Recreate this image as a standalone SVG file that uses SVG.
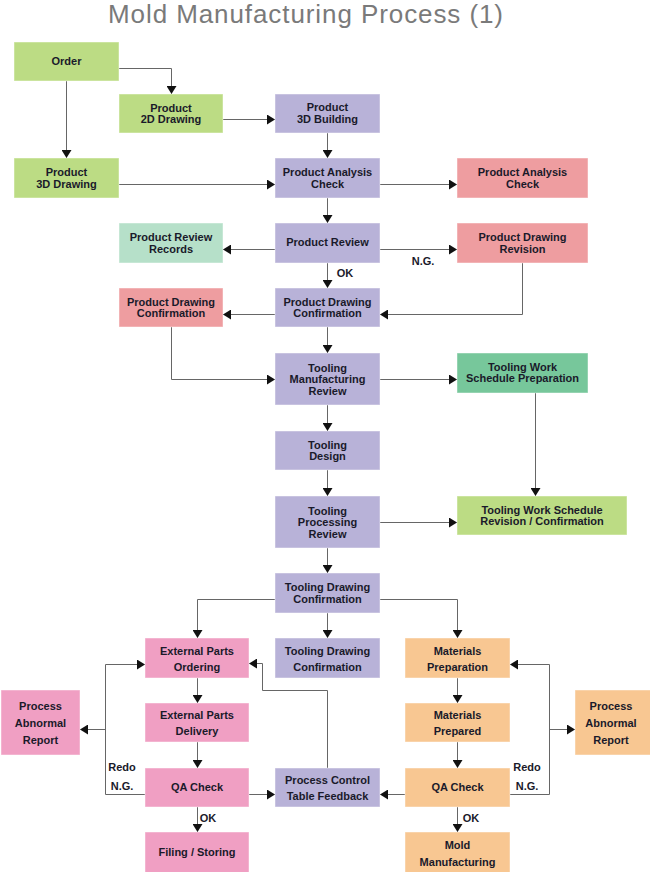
<svg xmlns="http://www.w3.org/2000/svg" width="650" height="872" viewBox="0 0 650 872">
<defs>
<marker id="ah" markerUnits="userSpaceOnUse" markerWidth="10" markerHeight="10" refX="8" refY="5" orient="auto">
<path d="M0,0 L8,5 L0,10 z" fill="#111"/>
</marker>
</defs>
<style>
.bx{stroke:#ffffff;stroke-opacity:0.45;stroke-width:1}
.g{fill:#bcdc84}.p{fill:#b8b2d8}.r{fill:#ee9da0}.m{fill:#b6e0c9}.t{fill:#77c79b}.k{fill:#f09fc3}.o{fill:#f8c792}
text{font-family:"Liberation Sans",Arial,sans-serif;font-size:11px;font-weight:bold;fill:#1a1a2a;text-anchor:middle;dominant-baseline:central}
#conn path{fill:none;stroke:#666;stroke-width:1;marker-end:url(#ah)}
</style>
<rect width="650" height="872" fill="#fff"/>
<text x="305.5" y="14" style="font-size:26px;font-weight:normal;fill:#7a7a7a" textLength="395" lengthAdjust="spacing">Mold Manufacturing Process (1)</text>

<g id="conn">
<path d="M119,68.5 H171.5 V94"/>
<path d="M66.5,81 V158"/>
<path d="M223,119.5 H275"/>
<path d="M327.5,133 V158"/>
<path d="M119,184.5 H275"/>
<path d="M380,184.5 H457"/>
<path d="M327.5,198 V223"/>
<path d="M275,249.5 H223"/>
<path d="M380,249.5 H457"/>
<path d="M327.5,263 V288"/>
<path d="M522.5,263 V314.5 H380"/>
<path d="M275,314.5 H223"/>
<path d="M171.5,327 V379.5 H275"/>
<path d="M327.5,327 V353"/>
<path d="M380,379.5 H457"/>
<path d="M535.5,393 V496"/>
<path d="M327.5,405 V431"/>
<path d="M327.5,470 V496"/>
<path d="M380,522.5 H457"/>
<path d="M327.5,548 V573"/>
<path d="M275,599.5 H197.5 V638"/>
<path d="M327.5,613 V638"/>
<path d="M380,599.5 H457.5 V638"/>
<path d="M197.5,678 V703"/>
<path d="M197.5,742 V768"/>
<path d="M197.5,807 V832"/>
<path d="M249,794.5 H275"/>
<path d="M405,794.5 H380"/>
<path d="M327.5,768 V690.5 H262.5 V663.5 H249"/>
<path d="M145,794.5 H105.5 V664.5 H145"/>
<path d="M105.5,729.5 H80"/>
<path d="M457.5,678 V703"/>
<path d="M457.5,742 V768"/>
<path d="M457.5,807 V832"/>
<path d="M510,794.5 H549.5 V664.5 H510"/>
<path d="M549.5,729.5 H575"/>
<text x="423" y="261">N.G.</text>
<text x="345" y="273">OK</text>
<text x="122" y="767">Redo</text>
<text x="122" y="786">N.G.</text>
<text x="527" y="767">Redo</text>
<text x="527" y="786">N.G.</text>
<text x="208" y="818">OK</text>
<text x="471" y="818">OK</text>
</g>

<g id="order"><rect class="bx g" x="14" y="42" width="105" height="39"/><text x="66.5" y="61">Order</text></g>
<g id="p2d"><rect class="bx g" x="119" y="94" width="104" height="39"/><text x="171" y="107.5">Product</text><text x="171" y="119">2D Drawing</text></g>
<g id="p3db"><rect class="bx p" x="275" y="94" width="105" height="39"/><text x="327.5" y="107">Product</text><text x="327.5" y="118.5">3D Building</text></g>
<g id="p3dd"><rect class="bx g" x="14" y="158" width="105" height="40"/><text x="66.5" y="172">Product</text><text x="66.5" y="183.5">3D Drawing</text></g>
<g id="pac"><rect class="bx p" x="275" y="158" width="105" height="40"/><text x="327.5" y="172">Product Analysis</text><text x="327.5" y="183.5">Check</text></g>
<g id="pacr"><rect class="bx r" x="457" y="158" width="131" height="40"/><text x="522.5" y="172">Product Analysis</text><text x="522.5" y="183.5">Check</text></g>
<g id="prr"><rect class="bx m" x="119" y="223" width="104" height="40"/><text x="171" y="237">Product Review</text><text x="171" y="248.5">Records</text></g>
<g id="pr"><rect class="bx p" x="275" y="223" width="105" height="40"/><text x="327.5" y="242">Product Review</text></g>
<g id="pdr"><rect class="bx r" x="457" y="223" width="131" height="40"/><text x="522.5" y="237">Product Drawing</text><text x="522.5" y="248.5">Revision</text></g>
<g id="pdcr"><rect class="bx r" x="119" y="288" width="104" height="39"/><text x="171" y="301.5">Product Drawing</text><text x="171" y="313">Confirmation</text></g>
<g id="pdc"><rect class="bx p" x="275" y="288" width="105" height="39"/><text x="327.5" y="301.5">Product Drawing</text><text x="327.5" y="313">Confirmation</text></g>
<g id="tmr"><rect class="bx p" x="275" y="353" width="105" height="52"/><text x="327.5" y="367.5">Tooling</text><text x="327.5" y="379">Manufacturing</text><text x="327.5" y="390.5">Review</text></g>
<g id="twsp"><rect class="bx t" x="457" y="353" width="131" height="40"/><text x="522.5" y="366.5">Tooling Work</text><text x="522.5" y="378">Schedule Preparation</text></g>
<g id="td"><rect class="bx p" x="275" y="431" width="105" height="39"/><text x="327.5" y="444.5">Tooling</text><text x="327.5" y="456">Design</text></g>
<g id="tpr"><rect class="bx p" x="275" y="496" width="105" height="52"/><text x="327.5" y="510.5">Tooling</text><text x="327.5" y="522">Processing</text><text x="327.5" y="533.5">Review</text></g>
<g id="twsrc"><rect class="bx g" x="457" y="496" width="170" height="39"/><text x="542" y="509.5">Tooling Work Schedule</text><text x="542" y="521">Revision / Confirmation</text></g>
<g id="tdc"><rect class="bx p" x="275" y="573" width="105" height="40"/><text x="327.5" y="587">Tooling Drawing</text><text x="327.5" y="598.5">Confirmation</text></g>
<g id="epo"><rect class="bx k" x="145" y="638" width="104" height="40"/><text x="197" y="650.5">External Parts</text><text x="197" y="666.5">Ordering</text></g>
<g id="tdc2"><rect class="bx p" x="275" y="638" width="105" height="40"/><text x="327.5" y="650.5">Tooling Drawing</text><text x="327.5" y="666.5">Confirmation</text></g>
<g id="mprep"><rect class="bx o" x="405" y="638" width="105" height="40"/><text x="457.5" y="650.5">Materials</text><text x="457.5" y="666.5">Preparation</text></g>
<g id="parl"><rect class="bx k" x="1" y="690" width="79" height="65"/><text x="40.5" y="705.5">Process</text><text x="40.5" y="722.5">Abnormal</text><text x="40.5" y="739.5">Report</text></g>
<g id="epd"><rect class="bx k" x="145" y="703" width="104" height="39"/><text x="197" y="715">External Parts</text><text x="197" y="731">Delivery</text></g>
<g id="mpd"><rect class="bx o" x="405" y="703" width="105" height="39"/><text x="457.5" y="715">Materials</text><text x="457.5" y="731">Prepared</text></g>
<g id="parr"><rect class="bx o" x="575" y="690" width="76" height="65"/><text x="611" y="705.5">Process</text><text x="611" y="722.5">Abnormal</text><text x="611" y="739.5">Report</text></g>
<g id="qal"><rect class="bx k" x="145" y="768" width="104" height="39"/><text x="197" y="787">QA Check</text></g>
<g id="pctf"><rect class="bx p" x="275" y="768" width="105" height="39"/><text x="327.5" y="780">Process Control</text><text x="327.5" y="796">Table Feedback</text></g>
<g id="qar"><rect class="bx o" x="405" y="768" width="105" height="39"/><text x="457.5" y="787">QA Check</text></g>
<g id="fs"><rect class="bx k" x="145" y="832" width="104" height="42"/><text x="197" y="852">Filing / Storing</text></g>
<g id="mm"><rect class="bx o" x="405" y="832" width="105" height="42"/><text x="457.5" y="845">Mold</text><text x="457.5" y="862">Manufacturing</text></g>
</svg>
